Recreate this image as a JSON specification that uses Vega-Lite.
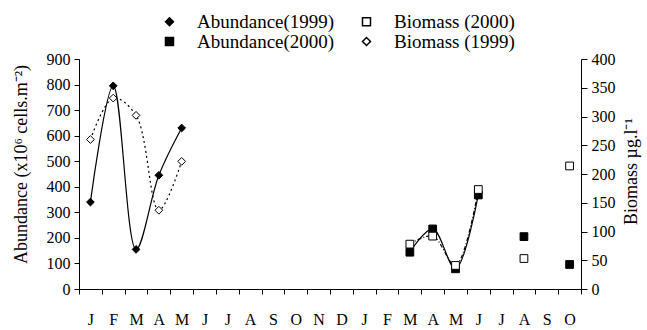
{
  "$schema": "https://vega.github.io/schema/vega-lite/v6.json",
  "width": 502,
  "height": 230,
  "autosize": {"type": "none"},
  "padding": {"left": 79, "top": 59, "right": 66, "bottom": 41},
  "background": "white",
  "config": {
    "view": {"stroke": null},
    "font": "Liberation Serif",
    "axis": {
      "domainColor": "black", "tickColor": "black", "labelColor": "black", "titleColor": "black",
      "labelFont": "Liberation Serif", "titleFont": "Liberation Serif",
      "labelFontSize": 16, "titleFontSize": 18, "titleFontWeight": "normal",
      "grid": false, "domainWidth": 1, "tickWidth": 1
    }
  },
  "data": {
    "values": [
      {"s": "Abundance(1999)", "m": 1, "v": 340},
      {"s": "Abundance(1999)", "m": 2, "v": 795},
      {"s": "Abundance(1999)", "m": 3, "v": 155},
      {"s": "Abundance(1999)", "m": 4, "v": 445},
      {"s": "Abundance(1999)", "m": 5, "v": 630},
      {"s": "Abundance(2000)", "m": 15, "v": 144},
      {"s": "Abundance(2000)", "m": 16, "v": 235},
      {"s": "Abundance(2000)", "m": 17, "v": 79},
      {"s": "Abundance(2000)", "m": 18, "v": 368},
      {"s": "Abundance(2000)", "m": 20, "v": 205},
      {"s": "Abundance(2000)", "m": 22, "v": 96},
      {"s": "Biomass (1999)", "m": 1, "v": 260},
      {"s": "Biomass (1999)", "m": 2, "v": 332},
      {"s": "Biomass (1999)", "m": 3, "v": 302},
      {"s": "Biomass (1999)", "m": 4, "v": 137},
      {"s": "Biomass (1999)", "m": 5, "v": 222},
      {"s": "Biomass (2000)", "m": 15, "v": 78},
      {"s": "Biomass (2000)", "m": 16, "v": 92},
      {"s": "Biomass (2000)", "m": 17, "v": 41},
      {"s": "Biomass (2000)", "m": 18, "v": 173},
      {"s": "Biomass (2000)", "m": 20, "v": 53},
      {"s": "Biomass (2000)", "m": 22, "v": 214}
    ]
  },
  "encoding": {
    "x": {
      "field": "m", "type": "ordinal", "bandPosition": 0.5,
      "scale": {"type": "band", "domain": [1,2,3,4,5,6,7,8,9,10,11,12,13,14,15,16,17,18,19,20,21,22], "paddingInner": 0, "paddingOuter": 0},
      "axis": {
        "title": null, "labelAngle": 0, "tickBand": "extent", "tickSize": 5, "labelPadding": 17,
        "labelExpr": "['J','F','M','A','M','J','J','A','S','O','N','D'][(datum.value - 1) % 12]"
      }
    }
  },
  "layer": [
    {
      "transform": [{"filter": "indexof(datum.s, 'Abundance') == 0"}],
      "encoding": {
        "y": {
          "field": "v", "type": "quantitative",
          "scale": {"domain": [0, 900], "nice": false},
          "axis": {
            "orient": "left", "values": [0,100,200,300,400,500,600,700,800,900],
            "tickSize": 5, "labelPadding": 4,
            "title": "Abundance (x10⁶ cells.m⁻²)", "titleAngle": 270,
            "titleX": -58, "titleY": 105, "titleAlign": "center", "titleBaseline": "middle"
          }
        }
      },
      "layer": [
        {
          "transform": [{"filter": "datum.m <= 18"}],
          "mark": {"type": "line", "interpolate": "catmull-rom", "color": "black", "strokeWidth": 1.2},
          "encoding": {"detail": {"field": "s", "type": "nominal"}}
        },
        {
          "mark": {"type": "point", "filled": true, "stroke": "black", "strokeWidth": 1, "opacity": 1, "size": 60},
          "encoding": {
            "shape": {
              "field": "s", "type": "nominal",
              "scale": {"domain": ["Abundance(1999)", "Abundance(2000)", "Biomass (2000)", "Biomass (1999)"], "range": ["diamond", "square", "square", "diamond"]},
              "legend": {
                "orient": "none", "legendX": 81, "legendY": -47, "columns": 2, "title": null,
                "labelFont": "Liberation Serif", "labelFontSize": 19, "labelColor": "black", "labelLimit": 0,
                "symbolSize": 64,
                "labelOffset": 18, "columnPadding": 22, "rowPadding": 0,
                "encode": {
                  "symbols": {
                    "stroke": {"value": "black"},
                    "strokeWidth": {"value": 1.2},
                    "opacity": {"value": 1}
                  }
                }
              }
            },
            "fill": {
              "field": "s", "type": "nominal",
              "scale": {"domain": ["Abundance(1999)", "Abundance(2000)", "Biomass (2000)", "Biomass (1999)"], "range": ["black", "black", "white", "white"]},
              "legend": null
            }
          }
        }
      ]
    },
    {
      "transform": [{"filter": "indexof(datum.s, 'Biomass') == 0"}],
      "encoding": {
        "y": {
          "field": "v", "type": "quantitative",
          "scale": {"domain": [0, 400], "nice": false},
          "axis": {
            "orient": "right", "values": [0,50,100,150,200,250,300,350,400],
            "tickSize": 6, "labelPadding": 4,
            "title": "Biomass µg.l⁻¹", "titleAngle": 270,
            "titleX": 50, "titleY": 112, "titleAlign": "center", "titleBaseline": "middle"
          }
        }
      },
      "layer": [
        {
          "transform": [{"filter": "datum.m <= 18"}],
          "mark": {"type": "line", "interpolate": "catmull-rom", "color": "black", "strokeWidth": 1.2},
          "encoding": {
            "strokeDash": {
              "field": "s", "type": "nominal",
              "scale": {"domain": ["Biomass (2000)", "Biomass (1999)"], "range": [[4, 2, 1, 2], [2, 3]]},
              "legend": null
            }
          }
        },
        {
          "mark": {"type": "point", "filled": true, "stroke": "black", "strokeWidth": 1, "opacity": 1, "size": 60},
          "encoding": {
            "shape": {
              "field": "s", "type": "nominal",
              "scale": {"domain": ["Abundance(1999)", "Abundance(2000)", "Biomass (2000)", "Biomass (1999)"], "range": ["diamond", "square", "square", "diamond"]}
            },
            "fill": {
              "field": "s", "type": "nominal",
              "scale": {"domain": ["Abundance(1999)", "Abundance(2000)", "Biomass (2000)", "Biomass (1999)"], "range": ["black", "black", "white", "white"]},
              "legend": null
            }
          }
        }
      ]
    }
  ],
  "resolve": {"scale": {"y": "independent"}}
}
